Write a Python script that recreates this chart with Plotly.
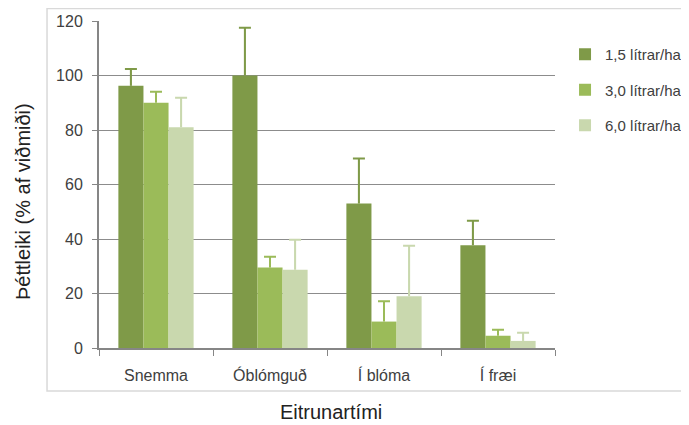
import plotly.graph_objects as go

categories = ["Snemma", "Óblómguð", "Í blóma", "Í fræi"]
series_names = ["1,5 lítrar/ha", "3,0 lítrar/ha", "6,0 lítrar/ha"]
vals_15 = [96.2, 100.0, 53.0, 37.7]
vals_30 = [90.0, 29.5, 9.7, 4.5]
vals_60 = [81.0, 28.7, 19.0, 2.6]
err_15 = [6.2, 17.5, 16.5, 9.0]
err_30 = [4.0, 4.0, 7.5, 2.2]
err_60 = [10.8, 11.0, 18.5, 3.0]
colors = ["#7F9A48", "#9BBB59", "#C9D8AE"]

fig = go.Figure()
for i, (name, vals, errs, col) in enumerate(zip(series_names, [vals_15, vals_30, vals_60],
                                                [err_15, err_30, err_60], colors)):
    grp = f"g{i}"
    fig.add_trace(go.Bar(
        x=categories, y=vals, name=name, legendgroup=name, offsetgroup=grp,
        marker=dict(color=col, line=dict(width=0)),
    ))
    # plus-only error bar: thin stem from bar top, capped at its end
    fig.add_trace(go.Bar(
        x=categories, y=errs, base=vals, width=0.018, offsetgroup=grp,
        legendgroup=name, showlegend=False, hoverinfo="skip",
        marker=dict(color=col, line=dict(width=0)),
        error_y=dict(type="data", array=[0]*len(errs), arrayminus=[0]*len(errs),
                     symmetric=False, color=col, thickness=2, width=6),
    ))

font = "Liberation Sans, Arial, sans-serif"
fig.update_layout(
    width=689, height=425,
    margin=dict(l=91, r=142, t=13, b=85, autoexpand=False),
    paper_bgcolor="white", plot_bgcolor="white",
    barmode="group", bargap=0.34, bargroupgap=0,
    font=dict(family=font, size=16, color="#404040"),
    legend=dict(x=1.022, y=0.948, xanchor="left", yanchor="top",
                font=dict(size=15, color="#404040"),
                tracegroupgap=13, traceorder="grouped",
                itemwidth=30, bgcolor="rgba(0,0,0,0)"),
    xaxis=dict(showline=True, linecolor="#868686", linewidth=2,
               ticks="outside", ticklen=6, tickcolor="#868686",
               tickson="boundaries", showgrid=False, ticklabelstandoff=12,
               tickfont=dict(size=16, color="#404040")),
    yaxis=dict(range=[0, 120], dtick=20, showline=True, linecolor="#868686",
               linewidth=2, ticks="outside", ticklen=5, tickcolor="#868686",
               showgrid=True, gridcolor="#8C8C8C", gridwidth=1,
               zeroline=False, tickfont=dict(size=16, color="#404040"),
               ticklabelstandoff=6),
    annotations=[
        dict(text="Þéttleiki (% af viðmiði)", xref="paper", yref="paper",
             x=-0.1667, y=0.4495, xanchor="center", yanchor="middle",
             textangle=-90, showarrow=False,
             font=dict(size=20, color="#222222")),
        dict(text="Eitrunartími", xref="paper", yref="paper",
             x=0.509, y=-0.196, xanchor="center", yanchor="middle",
             showarrow=False, font=dict(size=20, color="#222222")),
    ],
    shapes=[dict(type="rect", xref="paper", yref="paper",
                 x0=-0.114, x1=1.5, y0=-0.1315, y1=1.038,
                 line=dict(color="#D9D9D9", width=1.5), layer="below")],
)

fig.write_html("out.html")
